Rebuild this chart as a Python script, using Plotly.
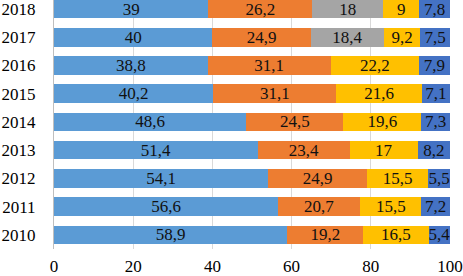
import plotly.graph_objects as go

years = ["2010", "2011", "2012", "2013", "2014", "2015", "2016", "2017", "2018"]
s1 = [58.9, 56.6, 54.1, 51.4, 48.6, 40.2, 38.8, 40, 39]
s2 = [19.2, 20.7, 24.9, 23.4, 24.5, 31.1, 31.1, 24.9, 26.2]
s3 = [None, None, None, None, None, None, None, 18.4, 18]
s4 = [16.5, 15.5, 15.5, 17, 19.6, 21.6, 22.2, 9.2, 9]
s5 = [5.4, 7.2, 5.5, 8.2, 7.3, 7.1, 7.9, 7.5, 7.8]
x_ticks = [0, 20, 40, 60, 80, 100]

series = [s1, s2, s3, s4, s5]
colors = ["#5B9BD5", "#ED7D31", "#A5A5A5", "#FFC000", "#4472C4"]
FONT = "Times New Roman, Liberation Serif, serif"

fig = go.Figure()
for vals, col in zip(series, colors):
    fig.add_trace(go.Bar(
        y=years, x=vals, orientation="h",
        marker=dict(color=col, line=dict(width=0)),
        texttemplate="%{x}", textposition="inside",
        insidetextanchor="middle", textangle=0,
        textfont=dict(family=FONT, size=17, color="#111111"),
        hoverinfo="skip", showlegend=False,
    ))

fig.update_layout(
    barmode="stack", bargap=0.344,
    width=463, height=276,
    margin=dict(l=54, r=13, t=0, b=27),
    plot_bgcolor="white", paper_bgcolor="white",
    separators=", ",
    uniformtext=dict(mode="show", minsize=17),
    font=dict(family=FONT, size=17, color="#000000"),
    xaxis=dict(range=[0, 100], tickvals=x_ticks, showgrid=True,
               gridcolor="#D9D9D9", gridwidth=1, zeroline=False,
               showline=False, ticks="", automargin=False,
               ticklabelstandoff=5,
               tickfont=dict(family=FONT, size=17)),
    yaxis=dict(type="category", range=[-0.5, 8.32], showline=True,
               linecolor="#BFBFBF", linewidth=1, ticks="", automargin=False,
               ticklabelstandoff=14, tickfont=dict(family=FONT, size=17)),
)

fig.write_html("out.html", config={"displayModeBar": False},
               post_script="document.body.style.margin='0';document.body.style.overflow='hidden';")
